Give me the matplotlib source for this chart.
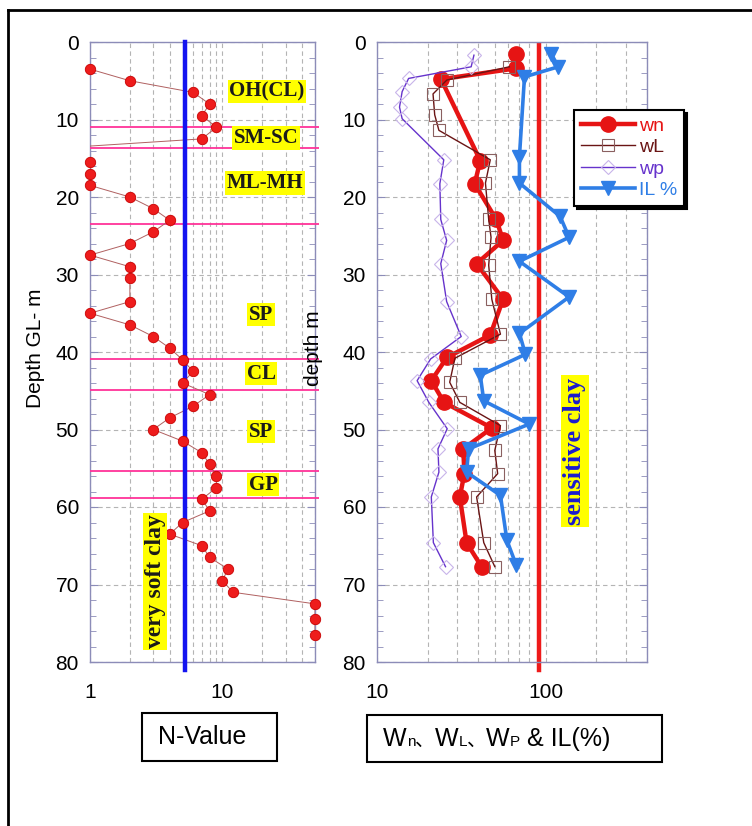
import numpy as np
import matplotlib
matplotlib.use("Agg")
from matplotlib import pyplot as plt
from matplotlib import ticker
from matplotlib.patches import Rectangle
from matplotlib.lines import Line2D
from matplotlib.offsetbox import TextArea, HPacker, AnchoredOffsetbox

plt.rcParams["font.family"] = ["Liberation Sans", "DejaVu Sans"]

# ---- left panel: SPT N-value vs depth
depth_n = [3.5, 5.0, 6.5, 8.0, 9.5, 11.0, 12.5, 14.0, 15.5, 17.0, 18.5, 20.0,
           21.5, 23.0, 24.5, 26.0, 27.5, 29.0, 30.5, 33.5, 35.0, 36.5, 38.0,
           39.5, 41.0, 42.5, 44.0, 45.5, 47.0, 48.5, 50.0, 51.5, 53.0, 54.5,
           56.0, 57.5, 59.0, 60.5, 62.0, 63.5, 65.0, 66.5, 68.0, 69.5, 71.0,
           72.5, 74.5, 76.5]
n_value = [1, 2, 6, 8, 7, 9, 7, 0.3, 1, 1, 1, 2,
           3, 4, 3, 2, 1, 2, 2, 2, 1, 2, 3,
           4, 5, 6, 5, 8, 6, 4, 3, 5, 7, 8,
           9, 9, 7, 8, 5, 4, 7, 8, 11, 10, 12,
           50, 50, 50]
layer_bounds = [11.0, 13.7, 23.5, 40.9, 44.9, 55.4, 58.9]
layer_names = ["OH(CL)", "SM-SC", "ML-MH", "SP", "CL", "SP", "GP"]
layer_depths = [6.4, 12.4, 18.2, 35.2, 42.8, 50.3, 57.1]
layer_xfrac = [0.787, 0.782, 0.778, 0.76, 0.76, 0.76, 0.769]
n_limit = 5.2

# ---- right panel: water contents and liquidity index
depth_wn = [1.5, 3.4, 4.8, 15.3, 18.3, 22.9, 25.6, 28.6, 33.2, 37.8, 40.7,
            43.7, 46.5, 49.8, 52.5, 55.7, 58.7, 64.6, 67.8]
wn = [67, 67, 24, 41, 38, 51, 56, 39, 56, 47, 26, 21, 25, 48, 32.5, 33, 31, 34, 42]

depth_wl = [3.2, 4.9, 6.7, 9.4, 11.4, 15.2, 18.2, 22.9, 25.2, 28.8, 33.2,
            37.7, 40.8, 43.9, 46.5, 49.5, 52.7, 55.7, 58.7, 64.6, 67.7]
wl = [61, 26, 21.5, 22, 23.3, 47, 44, 46, 47.5, 46, 48, 54, 29, 27, 31, 54,
      50, 52, 39, 43, 50]

depth_wp = [1.7, 3.2, 4.7, 6.4, 8.4, 9.9, 15.2, 18.3, 22.9, 25.6, 28.6, 33.5,
            38.0, 40.9, 43.7, 46.5, 49.9, 52.5, 55.5, 58.7, 64.6, 67.7]
wp = [37.6, 36.2, 15.4, 14.1, 13.6, 14.1, 24.9, 23.6, 23.9, 25.9, 23.9, 25.9,
      31.6, 20.8, 17.3, 20.3, 26.1, 23.0, 23.3, 21.0, 21.6, 25.5]

depth_il = [1.5, 3.2, 4.5, 14.8, 18.2, 22.5, 25.2, 28.3, 32.9, 37.6, 40.3,
            43.0, 46.3, 49.3, 52.5, 55.5, 58.5, 64.3, 67.5]
il = [108, 119, 75, 70, 70, 122, 138, 70, 138, 70, 76, 41, 43, 80, 35, 34, 54, 59, 67]
w_limit = 92

W, H = 752, 826
fig = plt.figure(figsize=(W / 100, H / 100), dpi=100)


def px_axes(x0, y0, x1, y1):
    return fig.add_axes([x0 / W, 1 - y1 / H, (x1 - x0) / W, (y1 - y0) / H])


spine_col = "#8c8cb8"
grid_col = "#b4b4b4"


def style(ax, xlim, xticks):
    ax.set_xscale("log")
    ax.set_xlim(*xlim)
    ax.set_ylim(80, 0)
    ax.xaxis.set_major_locator(ticker.FixedLocator(xticks))
    ax.xaxis.set_major_formatter(ticker.FormatStrFormatter("%g"))
    ax.xaxis.set_minor_locator(ticker.LogLocator(base=10, subs=np.arange(2, 10), numticks=20))
    ax.xaxis.set_minor_formatter(ticker.NullFormatter())
    ax.yaxis.set_major_locator(ticker.MultipleLocator(10))
    ax.yaxis.set_minor_locator(ticker.MultipleLocator(2))
    ax.tick_params(axis="x", which="both", length=0, pad=15, labelsize=15)
    ax.tick_params(axis="y", which="both", direction="in", left=True, right=True,
                   color=spine_col, labelsize=15, pad=8)
    ax.tick_params(axis="y", which="major", length=6)
    ax.tick_params(axis="y", which="minor", length=4)
    ax.grid(True, which="major", axis="y", ls=(0, (4, 3)), color=grid_col, lw=0.8)
    ax.grid(True, which="both", axis="x", ls=(0, (4, 3)), color=grid_col, lw=0.8)
    for s in ax.spines.values():
        s.set_color(spine_col)
        s.set_linewidth(1.0)


ax1 = px_axes(90, 42, 315, 662)
ax2 = px_axes(377, 42, 647, 662)
style(ax1, (1, 50), [1, 10])
style(ax2, (10, 400), [10, 100])

# left panel
ax1.hlines(layer_bounds, 1, 53.5, colors="#ff3399", lw=1.3, clip_on=False, zorder=3)
ax1.plot(n_value, depth_n, color="#b06060", lw=0.7, zorder=4)
nv = np.array(n_value)
dn = np.array(depth_n)
ok = nv >= 1
ax1.plot(nv[ok], dn[ok], ls="none", marker="o", ms=7.5, mfc="#ee1c1c",
         mec="#c80000", mew=0.6, clip_on=False, zorder=6)
ax1.plot([n_limit, n_limit], [0, 81], color="#1414f0", lw=3.2, clip_on=False, zorder=5)

lab_style = dict(family=["Liberation Serif", "DejaVu Serif"], fontweight="bold",
                 ha="center", va="center",
                 bbox=dict(boxstyle="square,pad=0.08", fc="#ffff00", ec="none"))
for name, d, xf in zip(layer_names, layer_depths, layer_xfrac):
    ax1.text(xf, d, name, transform=ax1.get_yaxis_transform(), color="#1a1a1a",
             zorder=7, fontsize=15, **lab_style)
ax1.text(0.289, 69.6, "very soft clay", rotation=90, transform=ax1.get_yaxis_transform(),
         color="#1a1a1a", zorder=7, fontsize=17, **lab_style)

ax1.set_ylabel("Depth GL- m", fontsize=15, va="center")
ax1.yaxis.set_label_coords(-0.244, 0.506)

# right panel
ax2.plot([w_limit, w_limit], [0.4, 81], color="#ee1a1a", lw=3.2, clip_on=False, zorder=2)
h_wn, = ax2.plot(wn, depth_wn, color="#e61414", lw=3.2, marker="o", ms=11,
                 mfc="#e61414", mec="#e61414", zorder=4, label="wn")
h_wl, = ax2.plot(wl, depth_wl, color="#6a1414", lw=1.0, marker="s", ms=9,
                 mfc="none", mec="#8a6060", mew=0.8, zorder=5, label="wL")
h_wp, = ax2.plot(wp, depth_wp, color="#6633cc", lw=1.0, marker="D", ms=7,
                 mfc="none", mec="#c8b4ea", mew=0.8, zorder=5, label="wp")
h_il, = ax2.plot(il, depth_il, color="#2f7ee6", lw=2.6, marker="v", ms=10,
                 mfc="#2f7ee6", mec="#2f7ee6", zorder=6, label="IL %")

ax2.text(0.733, 52.8, "sensitive clay", rotation=90, transform=ax2.get_yaxis_transform(),
         color="#1a1ad0", zorder=7, fontsize=19, **lab_style)

ax2.set_ylabel("depth m", fontsize=15, va="center")
ax2.yaxis.set_label_coords(-0.236, 0.506)

leg = ax2.legend(loc="upper left", bbox_to_anchor=(0.73, 0.89), borderaxespad=0,
                 frameon=True, shadow={"color": "black", "alpha": 1}, fancybox=False,
                 edgecolor="black", handlelength=2.8, fontsize=14, borderpad=0.35,
                 labelspacing=0.2, handletextpad=0.2, framealpha=1)
leg.get_frame().set_linewidth(1.5)
for txt, h in zip(leg.get_texts(), [h_wn, h_wl, h_wp, h_il]):
    txt.set_color(h.get_color())
leg.set_zorder(10)

# bottom boxes
for x0, y0, x1, y1 in [(142, 713, 277, 761), (367, 715, 662, 762)]:
    fig.add_artist(Rectangle((x0 / W, 1 - y1 / H), (x1 - x0) / W, (y1 - y0) / H,
                             transform=fig.transFigure, fill=False, lw=1.5, ec="black"))
fig.text(158 / W, 1 - 737 / H, "N-Value", fontsize=18, ha="left", va="center")

big = dict(fontsize=18)
small = dict(fontsize=11)
comma = dict(fontsize=14, family=["Noto Sans CJK JP", "DejaVu Sans"])
parts = [("W", big), ("n", small), ("、", comma), ("W", big), ("L", small), ("、", comma),
         ("W", big), ("P", small), (" & IL(%)", big)]
pack = HPacker(children=[TextArea(s, textprops=p) for s, p in parts],
               align="baseline", pad=0, sep=0)
anch = AnchoredOffsetbox(loc="center left", child=pack, pad=0, borderpad=0, frameon=False,
                         bbox_to_anchor=(383 / W, 1 - 739 / H),
                         bbox_transform=fig.transFigure)
fig.add_artist(anch)

# page frame (top and left edges)
fig.add_artist(Line2D([8 / W, 8 / W], [0, 1 - 10 / H], transform=fig.transFigure,
                      color="black", lw=2))
fig.add_artist(Line2D([8 / W, 1], [1 - 10 / H, 1 - 10 / H], transform=fig.transFigure,
                      color="black", lw=2))

plt.savefig("out.png", dpi=100)
